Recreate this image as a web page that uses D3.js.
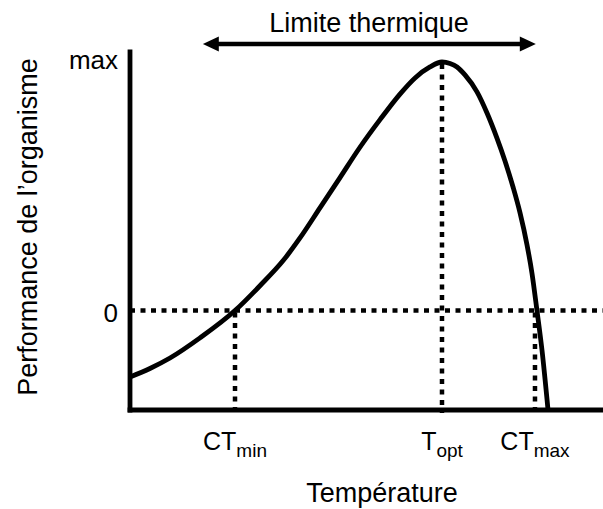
<!DOCTYPE html>
<html>
<head>
<meta charset="utf-8">
<script src="https://cdn.jsdelivr.net/npm/d3@7"></script>
<style>
  body { margin: 0; background: #fff; }
  text { font-family: "Liberation Sans", Arial, sans-serif; fill: #000; }
</style>
</head>
<body>
<div id="chart"></div>
<script>
let w = 603
let h = 509

// temperature (arbitrary units) vs performance (max = 1)
let temps = [0, 2.11, 4.23, 7.4, 11.1, 13.74, 16.17, 17.97, 20.08, 22.2, 24.31, 26.43, 28.54, 30.13, 31.71, 32.98, 33.83, 34.57, 35.41, 36.68, 37.74, 38.79, 39.64, 40.49, 41.23, 41.97, 42.49, 43.02, 43.55, 44.19]
let perf = [-0.267, -0.233, -0.191, -0.11, 0, 0.1, 0.2, 0.292, 0.413, 0.535, 0.657, 0.768, 0.871, 0.936, 0.98, 1.0, 0.994, 0.98, 0.948, 0.88, 0.795, 0.694, 0.602, 0.497, 0.393, 0.264, 0.151, 0, -0.159, -0.4]

let critical = [
  {name: "CT", sub: "min", t: 11.1, top: 0},
  {name: "T", sub: "opt", t: 32.98, top: 1},
  {name: "CT", sub: "max", t: 42.81, top: 0}
]
let yTicks = [{v: 1, label: "max", dy: 7}, {v: 0, label: "0", dy: 11}]
let limitRange = [7.7, 42.9]
let limitLabel = "Limite thermique"
let xTitle = "Température"
let yTitle = "Performance de l\u2019organisme"

let dataset = temps.map((t, i) => ({t: t, p: perf[i]}))

let svg = d3.select("#chart").append("svg")
  .attr("width", w)
  .attr("height", h)

let x = d3.scaleLinear().domain([0, 50]).range([130, 603])
let y = d3.scaleLinear().domain([-0.4, 1]).range([410, 62])

// dotted guides
let dots = "5,5.5"
svg.append("line")
  .attr("x1", x(0)).attr("x2", x(50))
  .attr("y1", y(0)).attr("y2", y(0))
  .attr("stroke", "#000").attr("stroke-width", 4.5)
  .attr("stroke-dasharray", dots)

svg.selectAll(".guide")
  .data(critical)
  .enter().append("line")
  .attr("class", "guide")
  .attr("x1", d => x(d.t)).attr("x2", d => x(d.t))
  .attr("y1", d => y(d.top) + 2).attr("y2", y(-0.4) + 3)
  .attr("stroke", "#000").attr("stroke-width", 4.5)
  .attr("stroke-dasharray", dots)

// curve
let line = d3.line()
  .x(d => x(d.t))
  .y(d => y(d.p))
  .curve(d3.curveMonotoneX)

svg.append("path")
  .datum(dataset)
  .attr("d", line)
  .attr("fill", "none")
  .attr("stroke", "#000")
  .attr("stroke-width", 4.8)

// axes
svg.append("line")
  .attr("x1", x(0)).attr("x2", x(0))
  .attr("y1", y(1.05)).attr("y2", y(-0.4) + 2.4)
  .attr("stroke", "#000").attr("stroke-width", 4.8)
svg.append("line")
  .attr("x1", x(0) - 2.4).attr("x2", x(50))
  .attr("y1", y(-0.4)).attr("y2", y(-0.4))
  .attr("stroke", "#000").attr("stroke-width", 4.8)

svg.selectAll(".ytick")
  .data(yTicks)
  .enter().append("text")
  .attr("class", "ytick")
  .attr("x", x(0) - 12)
  .attr("y", d => y(d.v) + d.dy)
  .attr("text-anchor", "end")
  .attr("font-size", 26)
  .text(d => d.label)

let lab = svg.selectAll(".xlab")
  .data(critical)
  .enter().append("text")
  .attr("class", "xlab")
  .attr("x", d => x(d.t))
  .attr("y", 450)
  .attr("text-anchor", "middle")
  .attr("font-size", 25)
lab.append("tspan").text(d => d.name)
lab.append("tspan").attr("font-size", 19).attr("dy", 7).text(d => d.sub)

svg.append("text")
  .attr("x", 382).attr("y", 502)
  .attr("text-anchor", "middle")
  .attr("font-size", 27)
  .text(xTitle)

svg.append("text")
  .attr("transform", "translate(37,227) rotate(-90)")
  .attr("text-anchor", "middle")
  .attr("font-size", 27)
  .text(yTitle)

// thermal limit arrow
let ay = 44
let head = 16
svg.append("line")
  .attr("x1", x(limitRange[0]) + head - 2).attr("x2", x(limitRange[1]) - head + 2)
  .attr("y1", ay).attr("y2", ay)
  .attr("stroke", "#000").attr("stroke-width", 4.5)
svg.append("path")
  .attr("d", "M" + x(limitRange[0]) + "," + ay + "l" + head + "," + (-7.5) + "l0,15z")
svg.append("path")
  .attr("d", "M" + x(limitRange[1]) + "," + ay + "l" + (-head) + "," + (-7.5) + "l0,15z")

svg.append("text")
  .attr("x", 369)
  .attr("y", 32)
  .attr("text-anchor", "middle")
  .attr("font-size", 27)
  .text(limitLabel)
</script>
</body>
</html>
